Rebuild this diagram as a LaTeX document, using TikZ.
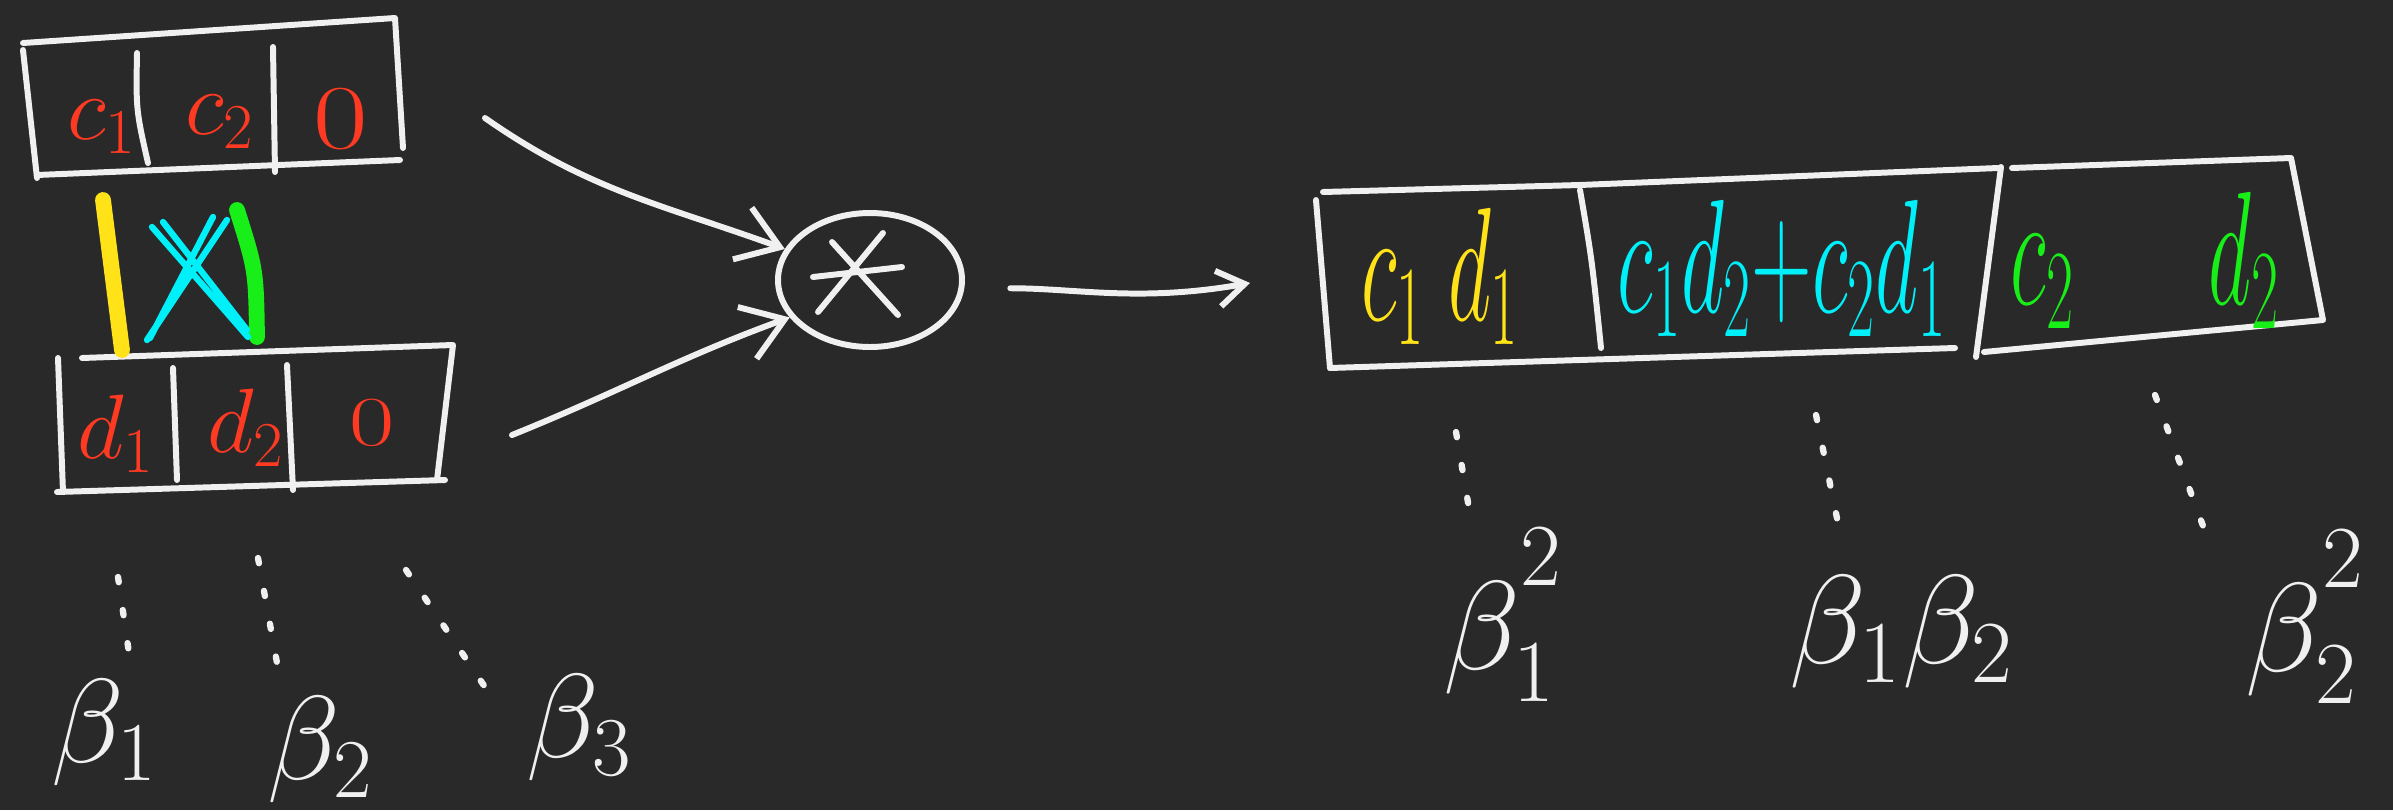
\documentclass[tikz,border=0pt]{standalone}
\usepackage{fix-cm}
\usepackage{graphicx}
\usetikzlibrary{arrows.meta,shapes.geometric}

\definecolor{board}{RGB}{41,41,41}
\definecolor{chalk}{RGB}{240,240,240}
\definecolor{inkred}{RGB}{255,58,34}
\definecolor{inkyellow}{RGB}{255,226,24}
\definecolor{inkcyan}{RGB}{0,240,250}
\definecolor{inkgreen}{RGB}{24,238,24}

\newcommand{\squeeze}[2]{\scalebox{#1}[1]{#2}}
\newcommand{\highsq}{\raisebox{0.3em}{$\scriptstyle 2$}}

\tikzset{
  stroke/.style={draw=chalk, line width=1.7pt, line cap=round, line join=round},
  dotline/.style={draw=chalk, line width=1.8pt, line cap=round, dash pattern=on 1.5pt off 8pt},
  arr/.style={stroke, -{Straight Barb[length=4mm,width=5.5mm]}},
  entry/.style={text=inkred, font=\fontsize{26}{30}\selectfont, inner sep=0pt},
  prodent/.style={font=\fontsize{46}{52}\selectfont, inner sep=0pt},
  basis/.style={text=chalk, font=\fontsize{34}{40}\selectfont, inner sep=0pt},
  marker/.style={line width=4.5pt, line cap=round},
}

\begin{document}
\begin{tikzpicture}
  \useasboundingbox (0,0) rectangle (23.93,8.10);
  \fill[board] (0,0) rectangle (23.93,8.10);

  % Vector c
  \draw[stroke] (0.23,7.60) -- (0.37,6.32);
  \draw[stroke] (0.23,7.67) -- (3.95,7.92) -- (4.03,6.62);
  \draw[stroke] (0.37,6.35) -- (4.00,6.50);
  \draw[stroke] (1.37,7.57) .. controls (1.36,7.0) .. (1.48,6.47);
  \draw[stroke] (2.73,7.63) -- (2.75,6.38);
  \node[entry] (c1) at (1.02,6.83) {$c_1$};
  \node[entry] (c2) at (2.20,6.88) {$c_2$};
  \node[entry] (c0) at (3.41,6.91) {\squeeze{1.3}{0}};

  % Vector d
  \draw[stroke] (0.58,4.52) -- (0.63,3.18);
  \draw[stroke] (0.82,4.52) -- (4.53,4.65) -- (4.37,3.30);
  \draw[stroke] (0.57,3.18) -- (4.45,3.30);
  \draw[stroke] (1.73,4.42) -- (1.77,3.30);
  \draw[stroke] (2.87,4.45) -- (2.93,3.20);
  \node[entry] (d1) at (1.16,3.76) {$d_1$};
  \node[entry] (d2) at (2.46,3.82) {$d_2$};
  \node[entry, font=\fontsize{20}{24}\selectfont] (d0) at (3.72,3.87) {\squeeze{1.4}{0}};

  % Which entries get multiplied
  \draw[marker, inkyellow] (1.03,6.10) -- (1.22,4.60);
  \draw[marker, inkgreen] (2.37,6.00) .. controls (2.56,5.40) .. (2.57,4.73);
  \draw[inkcyan, line width=1.8pt, line cap=round]
    (1.52,5.83) -- (2.48,4.73) (1.63,5.88) -- (2.47,4.80)
    (2.27,5.90) -- (1.47,4.70) (2.13,5.93) -- (1.50,4.72);

  % Product
  \node[ellipse, stroke, minimum width=1.84cm, minimum height=1.34cm, inner sep=0pt] (prod) at (8.70,5.30) {};
  \draw[stroke, shift={(prod.center)}]
    (-0.38,0.38) -- (0.28,-0.35) (0.13,0.47) -- (-0.52,-0.32) (-0.57,0.03) -- (0.32,0.13);

  \coordinate (cin) at (4.85,6.92);
  \coordinate (din) at (5.12,3.75);
  \coordinate (vecin) at (12.50,5.27);
  \draw[arr] (cin) to[out=-35,in=160] (prod.160);
  \draw[arr] (din) to[out=22,in=200] (prod.205);
  \draw[stroke, -{Straight Barb[length=2.7mm,width=3.6mm]}, shorten <=0.46cm]
    (prod.-5) to[out=0,in=190] (vecin);

  % Result
  \draw[stroke] (13.16,6.10) -- (13.30,4.42);
  \draw[stroke] (13.23,6.18) -- (15.80,6.25) -- (19.98,6.42);
  \draw[stroke] (20.12,6.42) -- (22.91,6.52) -- (23.23,4.90) -- (19.84,4.58);
  \draw[stroke] (19.55,4.62) -- (13.30,4.42);
  \draw[stroke] (15.80,6.20) .. controls (15.92,5.5) .. (16.01,4.62);
  \draw[stroke] (20.01,6.43) -- (19.76,4.53);
  \node[prodent, text=inkyellow] (r1) at (14.40,5.34) {\squeeze{0.52}{$c_1\;d_1$}};
  \node[prodent, text=inkcyan] (r2) at (17.82,5.42) {\squeeze{0.52}{$c_1d_2{+}c_2d_1$}};
  \node[prodent, text=inkgreen] (r3) at (21.45,5.50) {\squeeze{0.52}{$c_2\hspace{1.6em}d_2$}};

  % Basis labels
  \node[basis] (b1) at (1.05,0.77) {$\beta_1$};
  \node[basis] (b2) at (3.21,0.60) {$\beta_2$};
  \node[basis] (b3) at (5.80,0.82) {$\beta_3$};
  \node[basis, font=\fontsize{36}{42}\selectfont] (b11) at (15.03,1.95) {$\beta_1^{\highsq}$};
  \node[basis, font=\fontsize{36}{42}\selectfont] (b12) at (19.02,1.78) {$\beta_1\beta_2$};
  \node[basis, font=\fontsize{36}{42}\selectfont] (b22) at (23.05,1.93) {$\beta_2^{\highsq}$};

  \coordinate (s1) at (1.18,2.33);   \coordinate (e1) at (1.30,1.50);
  \coordinate (s2) at (2.58,2.52);   \coordinate (e2) at (2.81,1.25);
  \coordinate (s3) at (4.06,2.40);   \coordinate (e3) at (4.87,1.20);
  \coordinate (s11) at (14.56,3.78); \coordinate (e11) at (14.71,2.90);
  \coordinate (s12) at (18.16,3.95); \coordinate (e12) at (18.41,2.72);
  \coordinate (s22) at (21.55,4.15); \coordinate (e22) at (22.10,2.65);
  \draw[dotline] (s1) -- (e1);
  \draw[dotline] (s2) -- (e2);
  \draw[dotline] (s3) -- (e3);
  \draw[dotline] (s11) -- (e11);
  \draw[dotline] (s12) -- (e12);
  \draw[dotline] (s22) -- (e22);
\end{tikzpicture}
\end{document}
